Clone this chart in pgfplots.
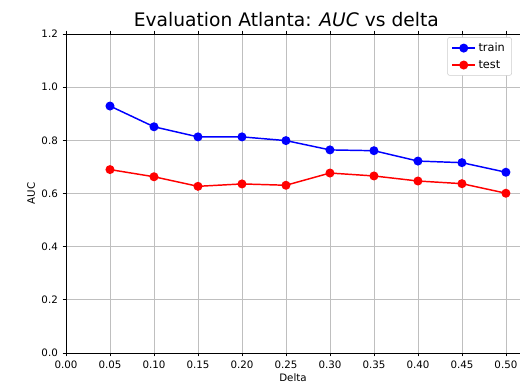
\documentclass[border=0pt]{standalone}
\usepackage{pgfplots}
\pgfplotsset{compat=1.18}
\usepackage{fontspec}
\setmainfont{DejaVu Sans}
\begin{document}
\begin{tikzpicture}
\path[use as bounding box] (-49.5pt,-27pt) rectangle (340.5pt,264.75pt);
\begin{axis}[
  at={(0,0)}, anchor=south west,
  scale only axis, width=340.5pt, height=239.25pt,
  xmin=0, xmax=0.516, ymin=0, ymax=1.2,
  axis x line*=box, axis y line*=left,
  xtick={0,0.05,...,0.51}, ytick={0,0.2,...,1.21},
  xticklabel style={/pgf/number format/.cd,fixed,fixed zerofill,precision=2},
  yticklabel style={/pgf/number format/.cd,fixed,fixed zerofill,precision=1},
  /pgf/number format/assume math mode=true,
  tick label style={font=\fontsize{7.7}{9}\selectfont},
  tick align=outside, major tick length=2.6pt,
  tick style={black, line width=0.6pt},
  axis line style={black, line width=0.6pt},
  grid=major, grid style={gray!50, line width=0.6pt},
  xlabel={Delta}, ylabel={AUC},
  label style={font=\fontsize{7.7}{9}\selectfont},
  xlabel style={yshift=3pt},
  ylabel style={yshift=-2pt},
  title={Evaluation Atlanta: \textit{AUC} vs delta},
  title style={font=\fontsize{14}{16}\selectfont, yshift=-4pt, xshift=-5pt},
  legend style={at={(0.982,0.99)}, anchor=north east, font=\fontsize{8.5}{10}\selectfont, draw=gray!40, rounded corners=1.5pt, row sep=1pt},
  legend cell align=left,
  every axis plot/.append style={line width=1.1pt, mark=*, mark size=2.8pt},
]
\addplot[blue, mark options={fill=blue}] coordinates {
(0.05,0.929) (0.10,0.851) (0.15,0.813) (0.20,0.813) (0.25,0.799)
(0.30,0.764) (0.35,0.761) (0.40,0.722) (0.45,0.716) (0.50,0.680)};
\addlegendentry{train}
\addplot[red, mark options={fill=red}] coordinates {
(0.05,0.690) (0.10,0.663) (0.15,0.627) (0.20,0.636) (0.25,0.631)
(0.30,0.677) (0.35,0.666) (0.40,0.647) (0.45,0.637) (0.50,0.601)};
\addlegendentry{test}
\end{axis}
\end{tikzpicture}
\end{document}
